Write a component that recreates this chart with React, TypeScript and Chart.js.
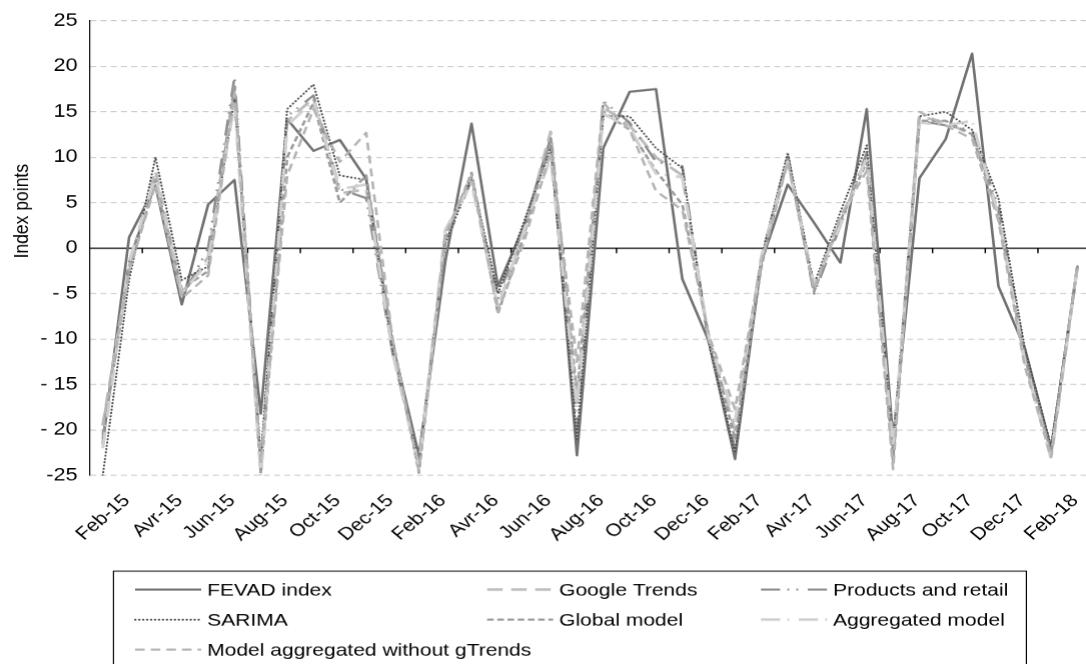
import React, { useEffect, useRef } from 'react';
import { Chart, registerables } from 'chart.js';

Chart.register(...registerables);

// Monthly categories (Feb-15 .. Mar-18)
const MONTHS = [
  'Feb-15', 'Mar-15', 'Avr-15', 'May-15', 'Jun-15', 'Jul-15', 'Aug-15', 'Sep-15', 'Oct-15', 'Nov-15', 'Dec-15',
  'Jan-16', 'Feb-16', 'Mar-16', 'Avr-16', 'May-16', 'Jun-16', 'Jul-16', 'Aug-16', 'Sep-16', 'Oct-16', 'Nov-16', 'Dec-16',
  'Jan-17', 'Feb-17', 'Mar-17', 'Avr-17', 'May-17', 'Jun-17', 'Jul-17', 'Aug-17', 'Sep-17', 'Oct-17', 'Nov-17', 'Dec-17',
  'Jan-18', 'Feb-18', 'Mar-18',
];

// Labels printed under the axis (every second month)
const TICK_LABELS = [
  'Feb-15', 'Avr-15', 'Jun-15', 'Aug-15', 'Oct-15', 'Dec-15', 'Feb-16', 'Avr-16', 'Jun-16', 'Aug-16',
  'Oct-16', 'Dec-16', 'Feb-17', 'Avr-17', 'Jun-17', 'Aug-17', 'Oct-17', 'Dec-17', 'Feb-18',
];

const Y_TICKS = [-25, -20, -15, -10, -5, 0, 5, 10, 15, 20, 25];
const Y_TICK_LABELS = ['-25', '- 20', '- 15', '- 10', '- 5', '0', '5', '10', '15', '20', '25'];

const FEVAD_INDEX = [
  -21.5, 1.2, 6.9, -6.2, 4.8, 7.5, -18.2, 14.2, 10.7, 11.9, 7.6, -10.5, -22.8, -1.5, 13.7, -4.2, 2.5, 12.1, -22.8,
  11.0, 17.2, 17.5, -3.4, -10.2, -23.2, -1.5, 7.0, 2.8, -1.6, 15.3, -21.0, 7.7, 12.0, 21.4, -4.2, -11.0, -22.0, -2.0,
];
const GOOGLE_TRENDS = [
  -19.5, -2.0, 8.5, -5.0, -1.0, 17.5, -24.5, 14.0, 16.5, 6.0, 6.5, -11.0, -24.0, 1.5, 8.0, -6.5, 2.0, 12.8, -17.0,
  15.5, 13.5, 10.0, 8.0, -10.0, -20.0, -1.0, 10.0, -4.5, 3.0, 10.0, -22.5, 14.5, 13.8, 12.5, 4.0, -12.5, -22.5, -2.0,
];
const PRODUCTS_RETAIL = [
  -21.0, -1.5, 7.2, -5.5, 0.0, 18.8, -24.0, 14.5, 16.8, 6.5, 5.5, -11.5, -23.5, 0.5, 7.5, -5.5, 2.5, 11.5, -20.0,
  16.2, 13.8, 9.5, 9.0, -10.5, -22.0, -1.5, 10.3, -5.0, 2.5, 10.5, -23.0, 14.0, 13.5, 13.0, 4.5, -11.5, -22.0, -2.2,
];
const SARIMA = [
  -25.0, -3.5, 10.0, -3.5, -2.0, 16.5, -23.0, 15.3, 18.0, 8.0, 7.5, -11.0, -23.5, 0.5, 7.8, -5.0, 3.0, 11.0, -21.0,
  14.5, 14.5, 11.0, 8.8, -10.3, -22.5, -1.0, 10.5, -4.0, 4.0, 11.3, -22.0, 14.5, 15.0, 13.0, 5.5, -11.0, -21.8, -2.0,
];
const GLOBAL_MODEL = [
  -20.5, -2.5, 7.5, -4.5, -2.5, 18.0, -24.8, 10.0, 16.0, 5.0, 8.0, -10.0, -24.7, 1.0, 8.3, -7.2, 1.5, 12.0, -16.0,
  15.0, 13.0, 8.5, 4.8, -9.5, -21.0, -2.0, 9.8, -4.8, 3.0, 9.5, -23.5, 14.0, 14.0, 12.5, 3.5, -12.0, -22.5, -2.0,
];
const AGGREGATED_MODEL = [
  -22.0, -1.5, 8.0, -5.0, -1.5, 16.0, -25.0, 13.5, 16.2, 6.5, 7.0, -11.5, -24.0, 2.0, 7.2, -6.5, 2.0, 10.0, -17.5,
  14.8, 13.2, 8.2, 7.8, -9.8, -19.0, -1.0, 9.5, -4.0, 2.5, 10.0, -22.0, 13.8, 13.5, 14.0, 3.5, -12.5, -23.2, -2.0,
];
const AGGREGATED_NO_GTRENDS = [
  -19.5, -2.5, 7.0, -5.5, -3.0, 17.0, -23.5, 8.0, 15.3, 9.5, 12.7, -10.0, -24.5, 1.5, 8.0, -7.0, 0.8, 10.5, -12.5,
  16.0, 13.0, 6.3, 4.2, -9.5, -17.7, -1.5, 9.5, -4.5, 3.5, 8.5, -24.3, 15.0, 13.5, 12.0, 3.0, -13.0, -23.0, -1.8,
];

const FONT = "'Liberation Sans', Arial, Helvetica, sans-serif";
const FONT_SIZE = 17.5;

// The figure is drawn on a 908x664 surface and widened by STRETCH on screen;
// the plot runs a few pixels past the visible right edge.
const WIDTH = 908;
const HEIGHT = 664;
const STRETCH = 1.2;

type Series = {
  label: string;
  data: number[];
  color: string;
  width: number;
  dash: number[];
  cap?: CanvasLineCap;
};

const SERIES: Series[] = [
  { label: 'FEVAD index', data: FEVAD_INDEX, color: '#717171', width: 2.2, dash: [] },
  { label: 'Google Trends', data: GOOGLE_TRENDS, color: '#bcbcbc', width: 2.6, dash: [13, 7] },
  { label: 'Products and retail', data: PRODUCTS_RETAIL, color: '#8e8e8e', width: 2.2, dash: [16, 6, 1.5, 6, 1.5, 8] },
  { label: 'SARIMA', data: SARIMA, color: '#4f4f4f', width: 1.8, dash: [0.3, 3], cap: 'round' },
  { label: 'Global model', data: GLOBAL_MODEL, color: '#9b9b9b', width: 2.2, dash: [5.5, 3] },
  { label: 'Aggregated model', data: AGGREGATED_MODEL, color: '#d0d0d0', width: 2.6, dash: [16, 6, 1.5, 8] },
  { label: 'Model aggregated without gTrends', data: AGGREGATED_NO_GTRENDS, color: '#b4b4b4', width: 2.2, dash: [8, 5] },
];

// Legend grid: three columns, rows filled left to right
const LEGEND_COLS = [112.5, 405.5, 633.5];
const LEGEND_ROWS = [589, 619, 649];

const decorations = {
  id: 'decorations',
  beforeDatasetsDraw(chart: any) {
    const { ctx, chartArea, scales } = chart;
    const x = scales.x;
    const y0 = scales.y.getPixelForValue(0);
    ctx.save();
    ctx.strokeStyle = '#000';
    ctx.lineWidth = 1.2;
    ctx.beginPath();
    ctx.moveTo(chartArea.left, y0);
    ctx.lineTo(chartArea.right, y0);
    for (let i = 2; i < MONTHS.length; i += 2) {
      const xb = (x.getPixelForValue(i - 1) + x.getPixelForValue(i)) / 2;
      ctx.moveTo(xb, y0);
      ctx.lineTo(xb, y0 + 5);
    }
    ctx.stroke();
    ctx.restore();
  },
  afterDraw(chart: any) {
    const { ctx, chartArea, scales } = chart;
    const x = scales.x;
    ctx.save();
    ctx.fillStyle = '#000';
    ctx.font = `${FONT_SIZE}px ${FONT}`;

    // rotated month labels
    ctx.textAlign = 'right';
    ctx.textBaseline = 'middle';
    TICK_LABELS.forEach((lbl) => {
      const i = MONTHS.indexOf(lbl);
      const px = x.getPixelForValue(i) + 20;
      const py = chartArea.bottom + 22.5;
      ctx.save();
      ctx.translate(px, py);
      ctx.rotate(-Math.PI / 4);
      ctx.fillText(lbl, 0, 0);
      ctx.restore();
    });

    // y-axis title
    ctx.save();
    ctx.translate(18.5, 211);
    ctx.rotate(-Math.PI / 2);
    ctx.textAlign = 'center';
    ctx.textBaseline = 'middle';
    ctx.fillText('Index points', 0, 0);
    ctx.restore();

    // legend frame
    ctx.strokeStyle = '#000';
    ctx.lineWidth = 1;
    ctx.strokeRect(94.5, 570.5, 760, 110);

    // legend entries
    ctx.font = `17.5px ${FONT}`;
    ctx.textAlign = 'left';
    ctx.textBaseline = 'alphabetic';
    chart.data.datasets.forEach((ds: any, k: number) => {
      const cx = LEGEND_COLS[k % 3];
      const cy = LEGEND_ROWS[Math.floor(k / 3)];
      ctx.save();
      ctx.strokeStyle = ds.borderColor;
      ctx.lineWidth = ds.borderWidth;
      ctx.lineCap = ds.borderCapStyle || 'butt';
      ctx.setLineDash(ds.borderDash || []);
      ctx.beginPath();
      ctx.moveTo(cx, cy);
      ctx.lineTo(cx + 55, cy);
      ctx.stroke();
      ctx.restore();
      ctx.fillText(ds.label, cx + 60, cy + 6);
    });
    ctx.restore();
  },
};

export default function App() {
  const canvasRef = useRef<HTMLCanvasElement | null>(null);

  useEffect(() => {
    const canvas = canvasRef.current;
    if (!canvas) return;
    const chart = new Chart(canvas, {
      type: 'line',
      data: {
        labels: MONTHS,
        datasets: SERIES.map((s, i) => ({
          label: s.label,
          data: s.data,
          borderColor: s.color,
          backgroundColor: s.color,
          borderWidth: s.width,
          borderDash: s.dash,
          borderCapStyle: s.cap || 'butt',
          borderJoinStyle: 'round',
          pointRadius: 0,
          pointHoverRadius: 0,
          tension: 0,
          fill: false,
          order: -i,
        })),
      },
      options: {
        responsive: false,
        animation: false,
        devicePixelRatio: STRETCH,
        events: [],
        layout: { padding: { left: 0, right: 0, top: 18.3, bottom: HEIGHT - 475 } },
        plugins: {
          legend: { display: false },
          tooltip: { enabled: false },
          title: { display: false },
        },
        scales: {
          x: {
            type: 'category',
            display: false,
            offset: true,
          },
          y: {
            min: -25,
            max: 25,
            afterFit: (scale: any) => {
              scale.width = 74.6;
            },
            ticks: {
              stepSize: 5,
              padding: 10,
              color: '#000',
              font: { family: FONT, size: 18 },
              callback: (value: any) => {
                const k = Y_TICKS.indexOf(Number(value));
                return k >= 0 ? Y_TICK_LABELS[k] : '';
              },
            },
            grid: {
              drawTicks: false,
              lineWidth: 1,
              color: (c: any) => (c.tick && c.tick.value === 0 ? 'rgba(0,0,0,0)' : '#c9c9c9'),
            },
            border: { display: true, color: '#000', width: 1, dash: [5, 3.5] },
          },
        },
      },
      plugins: [decorations],
    } as any);
    return () => chart.destroy();
  }, []);

  return (
    <div style={{ position: 'fixed', left: 0, top: 0, width: 1086, height: 664, overflow: 'hidden', background: '#fff' }}>
      <canvas
        ref={canvasRef}
        width={WIDTH}
        height={HEIGHT}
        style={{ width: `${WIDTH * STRETCH}px`, height: `${HEIGHT}px`, display: 'block' }}
      />
    </div>
  );
}
